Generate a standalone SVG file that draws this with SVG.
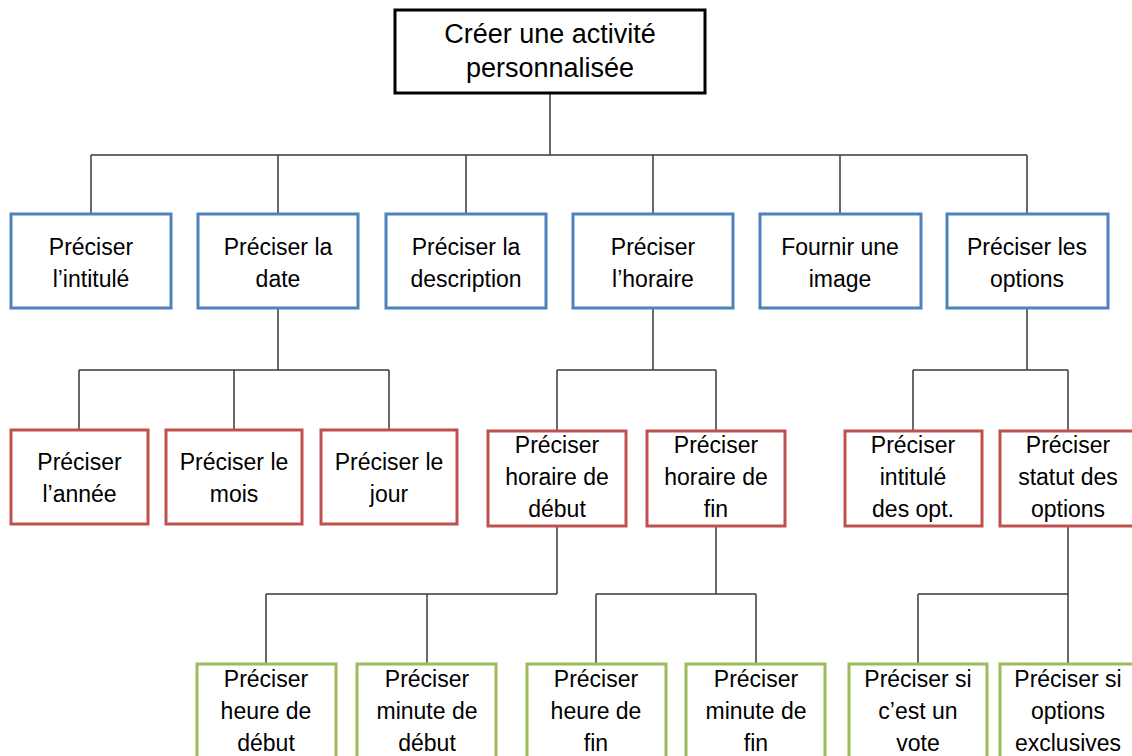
<svg xmlns="http://www.w3.org/2000/svg" width="1132" height="756" viewBox="0 0 1132 756">
<style>
.bg{fill:#ffffff}
rect.n{fill:#ffffff;stroke-width:3}
.root{stroke:#000000}
.b{stroke:#4F81BD}
.r{stroke:#C0504D}
.g{stroke:#9BBB59}
text{font-family:"Liberation Sans",Arial,sans-serif;font-size:23px;fill:#000000;text-anchor:middle}
text.big{font-size:27px}
#connectors path{fill:none;stroke:#3a3a3a;stroke-width:1.5}
</style>
<rect class="bg" x="0" y="0" width="1132" height="756"/>
<g id="connectors">
<path d="M550 93V155M91 155H1027M91 155V214M278 155V214M466 155V214M653 155V214M840 155V214M1027 155V214"/>
<path d="M278 308V370M79 370H389M79 370V430M234 370V430M389 370V430"/>
<path d="M653 308V370M557 370H716M557 370V431M716 370V431"/>
<path d="M1027 308V370M913 370H1068M913 370V431M1068 370V431"/>
<path d="M557 526V594M266 594H557M266 594V664M427 594V664"/>
<path d="M716 526V594M596 594H756M596 594V664M756 594V664"/>
<path d="M1068 526V594M918 594H1068M918 594V664M1068 594V664"/>
</g>
<g id="root"><rect class="n root" x="395" y="10" width="310" height="83"/><text class="big" x="550" y="43">Créer une activité</text><text class="big" x="550" y="77">personnalisée</text></g>
<g id="intitule"><rect class="n b" x="11" y="214" width="160" height="94"/><text x="91" y="255">Préciser</text><text x="91" y="287">l’intitulé</text></g>
<g id="date"><rect class="n b" x="198" y="214" width="160" height="94"/><text x="278" y="255">Préciser la</text><text x="278" y="287">date</text></g>
<g id="description"><rect class="n b" x="386" y="214" width="160" height="94"/><text x="466" y="255">Préciser la</text><text x="466" y="287">description</text></g>
<g id="horaire"><rect class="n b" x="573" y="214" width="160" height="94"/><text x="653" y="255">Préciser</text><text x="653" y="287">l’horaire</text></g>
<g id="image"><rect class="n b" x="760" y="214" width="161" height="94"/><text x="840" y="255">Fournir une</text><text x="840" y="287">image</text></g>
<g id="options"><rect class="n b" x="947" y="214" width="161" height="94"/><text x="1027" y="255">Préciser les</text><text x="1027" y="287">options</text></g>
<g id="annee"><rect class="n r" x="11" y="430" width="137" height="94"/><text x="79.5" y="470">Préciser</text><text x="79.5" y="502">l’année</text></g>
<g id="mois"><rect class="n r" x="166" y="430" width="136" height="94"/><text x="234" y="470">Préciser le</text><text x="234" y="502">mois</text></g>
<g id="jour"><rect class="n r" x="321" y="430" width="136" height="94"/><text x="389" y="470">Préciser le</text><text x="389" y="502">jour</text></g>
<g id="horaire-debut"><rect class="n r" x="488" y="431" width="138" height="95"/><text x="557" y="453">Préciser</text><text x="557" y="485">horaire de</text><text x="557" y="517">début</text></g>
<g id="horaire-fin"><rect class="n r" x="647" y="431" width="138" height="95"/><text x="716" y="453">Préciser</text><text x="716" y="485">horaire de</text><text x="716" y="517">fin</text></g>
<g id="intitule-opt"><rect class="n r" x="845" y="431" width="137" height="95"/><text x="913" y="453">Préciser</text><text x="913" y="485">intitulé</text><text x="913" y="517">des opt.</text></g>
<g id="statut-opt"><rect class="n r" x="1000" y="431" width="137" height="95"/><text x="1068" y="453">Préciser</text><text x="1068" y="485">statut des</text><text x="1068" y="517">options</text></g>
<g id="heure-debut"><rect class="n g" x="197" y="664" width="139" height="100"/><text x="266" y="687">Préciser</text><text x="266" y="719">heure de</text><text x="266" y="751">début</text></g>
<g id="minute-debut"><rect class="n g" x="357" y="664" width="139" height="100"/><text x="427" y="687">Préciser</text><text x="427" y="719">minute de</text><text x="427" y="751">début</text></g>
<g id="heure-fin"><rect class="n g" x="527" y="664" width="139" height="100"/><text x="596" y="687">Préciser</text><text x="596" y="719">heure de</text><text x="596" y="751">fin</text></g>
<g id="minute-fin"><rect class="n g" x="686" y="664" width="139" height="100"/><text x="756" y="687">Préciser</text><text x="756" y="719">minute de</text><text x="756" y="751">fin</text></g>
<g id="vote"><rect class="n g" x="849" y="664" width="138" height="100"/><text x="918" y="687">Préciser si</text><text x="918" y="719">c’est un</text><text x="918" y="751">vote</text></g>
<g id="exclusives"><rect class="n g" x="1000" y="664" width="137" height="100"/><text x="1068" y="687">Préciser si</text><text x="1068" y="719">options</text><text x="1068" y="751">exclusives</text></g>
</svg>
